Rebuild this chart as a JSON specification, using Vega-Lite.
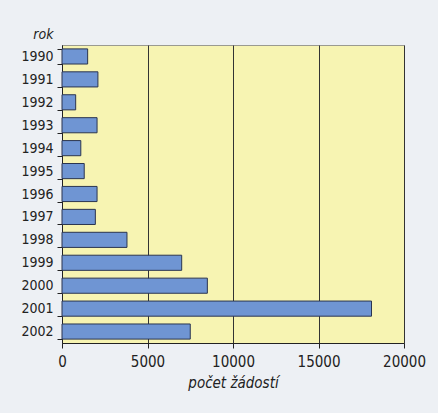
{
  "$schema": "https://vega.github.io/schema/vega-lite/v6.json",
  "autosize": "none",
  "width": 342,
  "height": 298,
  "padding": {"left": 62, "top": 45, "right": 34, "bottom": 70},
  "background": "#edf0f4",
  "data": {
    "values": [
      {"rok": "1990", "pocet": 1500},
      {"rok": "1991", "pocet": 2100},
      {"rok": "1992", "pocet": 800},
      {"rok": "1993", "pocet": 2050},
      {"rok": "1994", "pocet": 1100},
      {"rok": "1995", "pocet": 1300},
      {"rok": "1996", "pocet": 2050},
      {"rok": "1997", "pocet": 1950},
      {"rok": "1998", "pocet": 3800},
      {"rok": "1999", "pocet": 7000},
      {"rok": "2000", "pocet": 8500},
      {"rok": "2001", "pocet": 18100},
      {"rok": "2002", "pocet": 7500}
    ]
  },
  "mark": {"type": "bar", "color": "#6f95d3", "stroke": "#2b3550", "strokeWidth": 1},
  "encoding": {
    "y": {
      "field": "rok",
      "type": "nominal",
      "sort": null,
      "scale": {"paddingInner": 0.34, "paddingOuter": 0.17},
      "axis": {
        "title": "rok",
        "titleAngle": 0,
        "titleFontStyle": "italic",
        "titleFontWeight": "normal",
        "titleFontSize": 14,
        "titleColor": "#222",
        "titleAlign": "right",
        "titleBaseline": "bottom",
        "titleX": -9,
        "titleY": -4,
        "tickBand": "extent",
        "tickSize": 5,
        "tickColor": "#222",
        "domainColor": "#222",
        "labelFontSize": 14,
        "labelColor": "#222",
        "labelPadding": 4,
        "grid": false
      }
    },
    "x": {
      "field": "pocet",
      "type": "quantitative",
      "scale": {"domain": [0, 20000], "nice": false},
      "axis": {
        "title": "počet žádostí",
        "titleFontStyle": "italic",
        "titleFontWeight": "normal",
        "titleFontSize": 15,
        "titleColor": "#222",
        "titlePadding": 6,
        "values": [0, 5000, 10000, 15000, 20000],
        "format": "d",
        "labelFontSize": 15,
        "labelColor": "#222",
        "labelPadding": 6,
        "labelFlush": false,
        "tickSize": 5,
        "tickColor": "#222",
        "domainColor": "#222",
        "grid": true,
        "gridColor": "#333",
        "gridOpacity": 1,
        "gridWidth": 1
      }
    }
  },
  "config": {
    "font": "Liberation Sans Narrow, DejaVu Sans Condensed, Roboto, sans-serif",
    "view": {"fill": "#f7f4b2", "stroke": "#9a9a90", "strokeWidth": 1}
  }
}
